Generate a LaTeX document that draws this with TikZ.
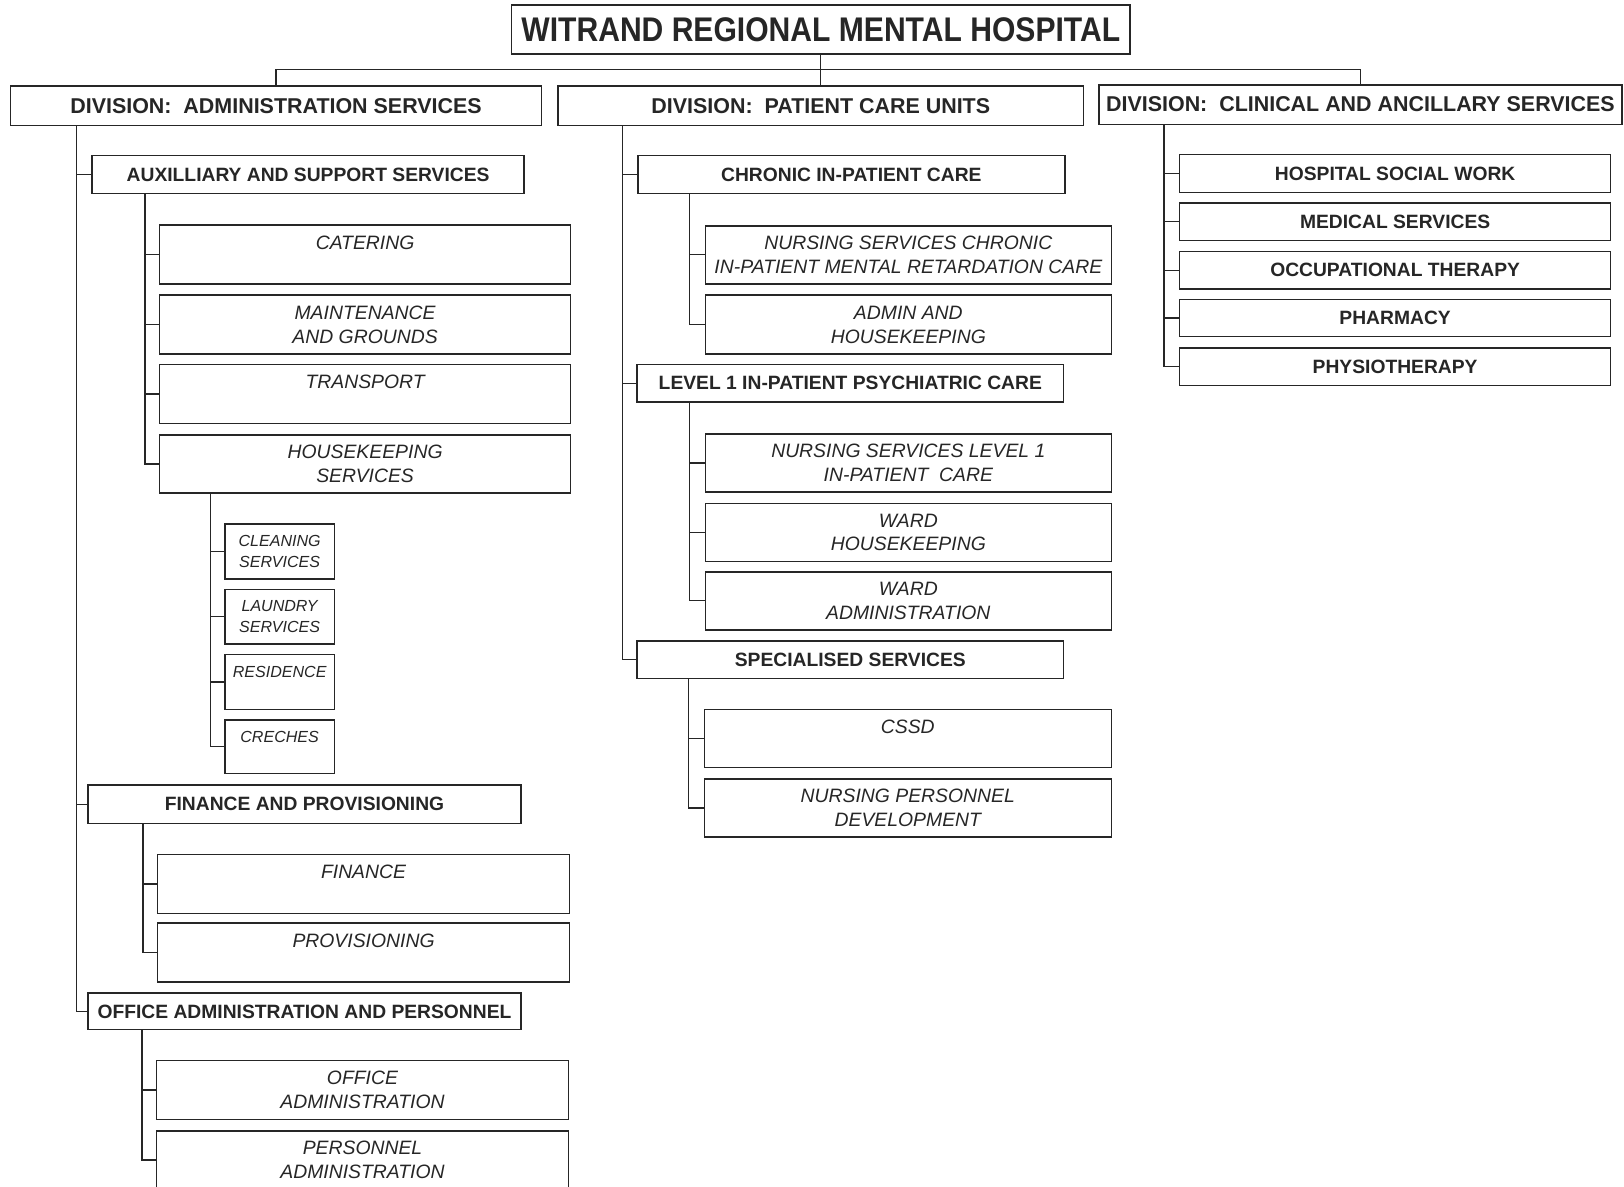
\documentclass[tikz,border=0pt]{standalone}
\usepackage{fontspec}
\setmainfont{Liberation Sans}
\newfontfamily\titlefont[FakeStretch=0.88]{Liberation Sans}
\usepackage{tikz}
\definecolor{ink}{RGB}{38, 38, 38}
\tikzset{
  orgbox/.style={draw=ink, line width=1.5pt, inner sep=3pt, outer sep=0pt,
                 anchor=north west, text=ink, align=center},
  divbox/.style={orgbox, minimum height=38pt, font=\fontsize{20.7}{25}\selectfont\bfseries},
  headbox/.style={orgbox, font=\fontsize{18.6}{22}\selectfont\bfseries},
  itembox/.style={orgbox, font=\fontsize{18.7}{23}\selectfont\itshape},
  smallbox/.style={orgbox, minimum width=106pt, font=\fontsize{15.5}{20}\selectfont\itshape},
  branch/.style={draw=ink, line width=1.3pt}
}

\begin{document}
\begin{tikzpicture}[x=1pt, y=-1pt]
            % Page
            \useasboundingbox[fill=white] (0,0) rectangle (1568,1146);
            \clip (0,0) rectangle (1568,1146);
            % Hospital & divisions
            \node[orgbox, minimum width=597pt, minimum height=47pt,
                  font=\fontsize{33}{40}\selectfont\titlefont\bfseries]     (title)      at ( 494,   5) {WITRAND REGIONAL MENTAL HOSPITAL};
            \node[divbox, minimum width=513pt]                               (admdiv)     at (  10,  83) {DIVISION:~~ADMINISTRATION SERVICES};
            \node[divbox, minimum width=507pt]                               (pcudiv)     at ( 539,  83) {DIVISION:~~PATIENT CARE UNITS};
            \node[divbox, minimum width=505pt]                               (clindiv)    at (1061,  82) {DIVISION:~~CLINICAL AND ANCILLARY SERVICES};
            % Administration services
            \node[headbox, minimum width=417pt, minimum height=37pt]         (aux)        at (  89, 150) {AUXILLIARY AND SUPPORT SERVICES};
            \node[itembox, minimum width=397pt, minimum height=57pt]        (catering)   at ( 154, 217) {CATERING\\\mbox{}};
            \node[itembox, minimum width=397pt, minimum height=57pt]        (maint)      at ( 154, 285) {MAINTENANCE\\AND GROUNDS};
            \node[itembox, minimum width=397pt, minimum height=57pt]        (transport)  at ( 154, 352) {TRANSPORT\\\mbox{}};
            \node[itembox, minimum width=397pt, minimum height=56pt]        (housekeep)  at ( 154, 420) {HOUSEKEEPING\\SERVICES};
            \node[smallbox, minimum height=53pt]                             (cleaning)   at ( 217, 506) {CLEANING\\SERVICES};
            \node[smallbox, minimum height=53pt]                             (laundry)    at ( 217, 569) {LAUNDRY\\SERVICES};
            \node[smallbox, minimum height=53pt]                             (residence)  at ( 217, 632) {RESIDENCE\\\mbox{}};
            \node[smallbox, minimum height=52pt]                             (creches)    at ( 217, 695) {CRECHES\\\mbox{}};
            \node[headbox, minimum width=418pt, minimum height=37pt]        (finprov)    at (  85, 758) {FINANCE AND PROVISIONING};
            \node[itembox, minimum width=398pt, minimum height=57pt]        (finance)    at ( 152, 825) {FINANCE\\\mbox{}};
            \node[itembox, minimum width=398pt, minimum height=57pt]        (provision)  at ( 152, 891) {PROVISIONING\\\mbox{}};
            \node[headbox, minimum width=418pt, minimum height=35pt]        (officeper)  at (  85, 959) {OFFICE ADMINISTRATION AND PERSONNEL};
            \node[itembox, minimum width=398pt, minimum height=57pt]        (officeadm)  at ( 151,1024) {OFFICE\\ADMINISTRATION};
            \node[itembox, minimum width=398pt, minimum height=56pt]        (personnel)  at ( 151,1092) {PERSONNEL\\ADMINISTRATION};
            % Patient care units
            \node[headbox, minimum width=412pt, minimum height=37pt]        (chronic)    at ( 616, 150) {CHRONIC IN-PATIENT CARE};
            \node[itembox, minimum width=392pt, minimum height=56pt]        (nurschron)  at ( 681, 218) {NURSING SERVICES CHRONIC\\IN-PATIENT MENTAL RETARDATION CARE};
            \node[itembox, minimum width=392pt, minimum height=57pt]        (adminhk)    at ( 681, 285) {ADMIN AND\\HOUSEKEEPING};
            \node[headbox, minimum width=412pt, minimum height=36pt]        (levelone)   at ( 615, 352) {LEVEL 1 IN-PATIENT PSYCHIATRIC CARE};
            \node[itembox, minimum width=392pt, minimum height=56pt]        (nurslevel)  at ( 681, 419) {NURSING SERVICES LEVEL 1\\IN-PATIENT~ CARE};
            \node[itembox, minimum width=392pt, minimum height=56pt]        (wardhk)     at ( 681, 486) {WARD\\HOUSEKEEPING};
            \node[itembox, minimum width=392pt, minimum height=56pt]        (wardadm)    at ( 681, 552) {WARD\\ADMINISTRATION};
            \node[headbox, minimum width=412pt, minimum height=36pt]        (special)    at ( 615, 619) {SPECIALISED SERVICES};
            \node[itembox, minimum width=393pt, minimum height=56pt]        (cssd)       at ( 680, 685) {CSSD\\\mbox{}};
            \node[itembox, minimum width=393pt, minimum height=56pt]        (nurspers)   at ( 680, 752) {NURSING PERSONNEL\\DEVELOPMENT};
            % Clinical and ancillary services
            \node[headbox, minimum width=416pt, minimum height=37pt]        (socialwork) at (1139, 149) {HOSPITAL SOCIAL WORK};
            \node[headbox, minimum width=416pt, minimum height=36pt]        (medical)    at (1139, 196) {MEDICAL SERVICES};
            \node[headbox, minimum width=416pt, minimum height=36pt]        (occther)    at (1139, 243) {OCCUPATIONAL THERAPY};
            \node[headbox, minimum width=416pt, minimum height=36pt]        (pharmacy)   at (1139, 289) {PHARMACY};
            \node[headbox, minimum width=416pt, minimum height=36pt]        (physio)     at (1139, 336) {PHYSIOTHERAPY};
            % Top links
            \draw[branch] (title.south)   -- (pcudiv.north);
            \draw[branch] (admdiv.north)  |- ([yshift=16pt]pcudiv.north) -| (clindiv.north);
            % Administration tree
            \draw[branch] ([xshift=64pt]admdiv.south west)    |- (aux.west);
            \draw[branch] ([xshift=64pt]admdiv.south west)    |- (finprov.west);
            \draw[branch] ([xshift=64pt]admdiv.south west)    |- (officeper.west);
            \draw[branch] ([xshift=51pt]aux.south west)       |- (catering.west);
            \draw[branch] ([xshift=51pt]aux.south west)       |- (maint.west);
            \draw[branch] ([xshift=51pt]aux.south west)       |- (transport.west);
            \draw[branch] ([xshift=51pt]aux.south west)       |- (housekeep.west);
            \draw[branch] ([xshift=49pt]housekeep.south west) |- (cleaning.west);
            \draw[branch] ([xshift=49pt]housekeep.south west) |- (laundry.west);
            \draw[branch] ([xshift=49pt]housekeep.south west) |- (residence.west);
            \draw[branch] ([xshift=49pt]housekeep.south west) |- (creches.west);
            \draw[branch] ([xshift=53pt]finprov.south west)   |- (finance.west);
            \draw[branch] ([xshift=53pt]finprov.south west)   |- (provision.west);
            \draw[branch] ([xshift=52pt]officeper.south west) |- (officeadm.west);
            \draw[branch] ([xshift=52pt]officeper.south west) |- (personnel.west);
            % Patient care tree
            \draw[branch] ([xshift=62pt]pcudiv.south west)    |- (chronic.west);
            \draw[branch] ([xshift=62pt]pcudiv.south west)    |- (levelone.west);
            \draw[branch] ([xshift=62pt]pcudiv.south west)    |- (special.west);
            \draw[branch] ([xshift=50pt]chronic.south west)   |- (nurschron.west);
            \draw[branch] ([xshift=50pt]chronic.south west)   |- (adminhk.west);
            \draw[branch] ([xshift=51pt]levelone.south west)  |- (nurslevel.west);
            \draw[branch] ([xshift=51pt]levelone.south west)  |- (wardhk.west);
            \draw[branch] ([xshift=51pt]levelone.south west)  |- (wardadm.west);
            \draw[branch] ([xshift=50pt]special.south west)   |- (cssd.west);
            \draw[branch] ([xshift=50pt]special.south west)   |- (nurspers.west);
            % Clinical tree
            \draw[branch] ([xshift=63pt]clindiv.south west)   |- (socialwork.west);
            \draw[branch] ([xshift=63pt]clindiv.south west)   |- (medical.west);
            \draw[branch] ([xshift=63pt]clindiv.south west)   |- (occther.west);
            \draw[branch] ([xshift=63pt]clindiv.south west)   |- (pharmacy.west);
            \draw[branch] ([xshift=63pt]clindiv.south west)   |- (physio.west);
\end{tikzpicture}
\end{document}
